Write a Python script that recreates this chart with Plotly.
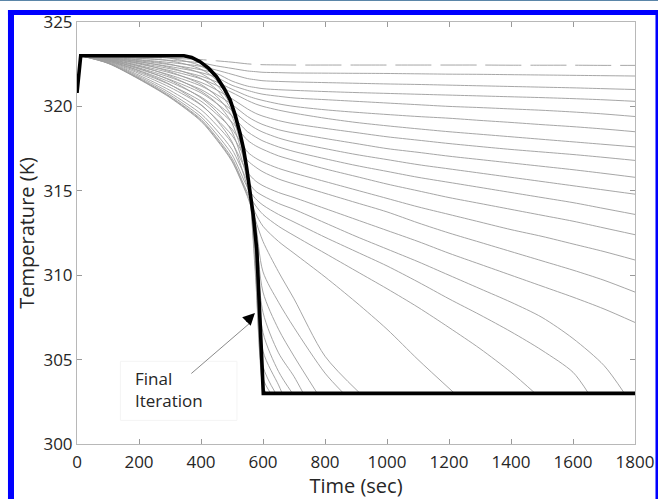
import plotly.graph_objects as go

# ---- data -------------------------------------------------------------
# Final (converged) temperature profile
final_t = [0, 12, 345, 370, 397, 425, 450, 475, 494, 510, 526, 537, 547, 558, 569, 580, 590, 601, 1800]
final_T = [320.8, 323.0, 323.0, 322.9, 322.65, 322.25, 321.76, 321.05, 320.38, 319.5, 318.4, 317.5,
           316.4, 315.0, 313.5, 311.5, 307.5, 303.0, 303.0]

# Intermediate iterations, first part of the run
early_t = [12, 100, 200, 300, 400, 450, 500, 550, 575]
early_T = [
    [323, 322.97, 322.92, 322.85, 322.77, 322.70, 322.62, 322.52, 322.49],
    [323, 322.95, 322.85, 322.73, 322.58, 322.40, 322.25, 322.10, 322.06],
    [323, 322.93, 322.77, 322.60, 322.37, 322.15, 321.90, 321.65, 321.58],
    [323, 322.90, 322.70, 322.47, 322.17, 321.95, 321.50, 321.20, 321.12],
    [323, 322.88, 322.64, 322.36, 322.00, 321.72, 321.25, 320.95, 320.82],
    [323, 322.86, 322.57, 322.23, 321.79, 321.45, 321.02, 320.62, 320.47],
    [323, 322.84, 322.51, 322.12, 321.63, 321.25, 320.82, 320.35, 320.15],
    [323, 322.82, 322.43, 321.99, 321.42, 320.98, 320.45, 319.85, 319.60],
    [323, 322.79, 322.36, 321.86, 321.21, 320.71, 320.11, 319.40, 319.13],
    [323, 322.77, 322.28, 321.72, 321.00, 320.44, 319.77, 319.00, 318.70],
    [323, 322.75, 322.21, 321.59, 320.80, 320.18, 319.44, 318.50, 318.20],
    [323, 322.72, 322.13, 321.44, 320.56, 319.88, 319.06, 318.00, 317.68],
    [323, 322.69, 322.03, 321.28, 320.31, 319.55, 318.65, 317.30, 316.95],
    [323, 322.66, 321.95, 321.13, 320.08, 319.25, 318.28, 316.80, 316.42],
    [323, 322.63, 321.85, 320.95, 319.80, 318.90, 317.83, 316.10, 315.60],
    [323, 322.60, 321.77, 320.80, 319.56, 318.60, 317.45, 315.60, 315.00],
    [323, 322.58, 321.70, 320.68, 319.38, 318.36, 317.15, 315.20, 314.55],
    [323, 322.57, 321.65, 320.59, 319.24, 318.18, 316.93, 314.90, 314.15],
    [323, 322.56, 321.63, 320.55, 319.17, 318.09, 316.81, 314.75, 313.70],
    [323, 322.55, 321.61, 320.52, 319.12, 318.03, 316.74, 314.65, 313.30],
    [323, 322.70, 322.10, 321.30, 320.10, 319.20, 317.90, 315.20, 313.20],
    [323, 322.75, 322.25, 321.55, 320.50, 319.70, 318.50, 315.60, 312.80],
    [323, 322.80, 322.40, 321.80, 320.90, 320.20, 319.00, 315.90, 312.40],
    [323, 322.85, 322.55, 322.05, 321.30, 320.60, 319.40, 316.00, 312.00],
    [323, 322.90, 322.65, 322.30, 321.65, 321.00, 319.70, 316.00, 311.50],
    [323, 322.93, 322.75, 322.50, 321.95, 321.30, 319.90, 316.00, 311.00],
    [323, 322.96, 322.85, 322.70, 322.20, 321.55, 320.00, 316.00, 310.60],
    [323, 322.98, 322.93, 322.85, 322.40, 321.70, 320.05, 316.00, 310.20],
]

# Intermediate iterations, rest of the run (None once the profile sits on the floor)
late_t = [600, 650, 700, 800, 900, 1000, 1100, 1200, 1300, 1400, 1500, 1600, 1700, 1800]
N = None
late_T = [
    [322.47, 322.46, 322.45, 322.45, 322.45, 322.45, 322.45, 322.45, 322.45, 322.44, 322.44, 322.44, 322.43, 322.43],
    [322.02, 322.00, 321.98, 321.97, 321.96, 321.95, 321.93, 321.91, 321.90, 321.88, 321.86, 321.84, 321.82, 321.80],
    [321.52, 321.48, 321.45, 321.41, 321.37, 321.33, 321.30, 321.26, 321.22, 321.18, 321.14, 321.10, 321.05, 321.00],
    [321.05, 320.99, 320.95, 320.88, 320.82, 320.77, 320.72, 320.67, 320.62, 320.57, 320.52, 320.46, 320.39, 320.30],
    [320.72, 320.60, 320.50, 320.40, 320.30, 320.20, 320.10, 320.00, 319.93, 319.85, 319.77, 319.67, 319.55, 319.40],
    [320.35, 320.15, 320.00, 319.80, 319.65, 319.52, 319.40, 319.30, 319.17, 319.05, 318.92, 318.80, 318.66, 318.50],
    [320.00, 319.78, 319.60, 319.30, 319.05, 318.85, 318.67, 318.50, 318.35, 318.20, 318.05, 317.90, 317.75, 317.60],
    [319.42, 319.16, 318.97, 318.70, 318.45, 318.20, 318.00, 317.80, 317.62, 317.45, 317.30, 317.15, 316.98, 316.80],
    [318.92, 318.62, 318.42, 318.10, 317.80, 317.50, 317.28, 317.05, 316.85, 316.65, 316.45, 316.25, 316.03, 315.80],
    [318.47, 318.13, 317.88, 317.50, 317.15, 316.85, 316.55, 316.30, 316.05, 315.80, 315.55, 315.30, 315.05, 314.80],
    [317.95, 317.60, 317.33, 316.90, 316.50, 316.15, 315.80, 315.50, 315.20, 314.90, 314.60, 314.30, 313.95, 313.60],
    [317.45, 317.07, 316.80, 316.30, 315.85, 315.40, 315.00, 314.60, 314.25, 313.90, 313.55, 313.20, 312.80, 312.40],
    [316.70, 316.33, 316.05, 315.55, 315.05, 314.55, 314.05, 313.60, 313.15, 312.70, 312.30, 311.85, 311.40, 310.90],
    [316.12, 315.70, 315.40, 314.85, 314.30, 313.75, 313.10, 312.50, 311.95, 311.40, 310.85, 310.30, 309.70, 309.00],
    [315.30, 314.90, 314.60, 313.95, 313.30, 312.65, 312.00, 311.30, 310.65, 310.00, 309.35, 308.70, 308.00, 307.20],
    [314.70, 314.25, 313.90, 313.10, 312.30, 311.55, 310.80, 310.00, 309.20, 308.40, 307.50, 306.25, 304.65, N],
    [314.15, 313.60, 313.15, 312.25, 311.40, 310.55, 309.60, 308.60, 307.65, 306.65, 305.55, 304.25, N, N],
    [313.60, 312.90, 312.35, 311.30, 310.25, 309.20, 308.10, 306.90, 305.65, 304.25, N, N, N, N],
    [312.90, 312.00, 311.30, 309.90, 308.40, 306.80, 305.00, N, N, N, N, N, N, N],
    [312.00, 310.20, 308.60, 305.20, N, N, N, N, N, N, N, N, N, N],
    [310.20, 308.40, 306.90, 304.20, N, N, N, N, N, N, N, N, N, N],
    [309.00, 306.80, 305.20, N, N, N, N, N, N, N, N, N, N, N],
    [307.80, 305.40, 304.00, N, N, N, N, N, N, N, N, N, N, N],
    [306.60, 304.30, N, N, N, N, N, N, N, N, N, N, N, N],
    [305.50, 303.50, N, N, N, N, N, N, N, N, N, N, N, N],
    [304.60, N, N, N, N, N, N, N, N, N, N, N, N, N],
    [303.90, N, N, N, N, N, N, N, N, N, N, N, N, N],
    [303.40, N, N, N, N, N, N, N, N, N, N, N, N, N],
]

# Time at which each profile reaches the 303 K floor (None: stays above it)
floor_hit_t = [None] * 15 + [1766, 1650, 1478, 1218, 913, 860, 775, 730, 695, 662, 641, 625, 612]
floor_T = 303.0

x_ticks = [0, 200, 400, 600, 800, 1000, 1200, 1400, 1600, 1800]
y_ticks = [300, 305, 310, 315, 320, 325]

# ---- figure -----------------------------------------------------------
fig = go.Figure()

for k in range(len(early_T)):
    xs = list(early_t)
    ys = list(early_T[k])
    for t, v in zip(late_t, late_T[k]):
        if v is not None:
            xs.append(t)
            ys.append(v)
    if floor_hit_t[k] is not None:
        xs.append(floor_hit_t[k])
        ys.append(floor_T)
    fig.add_trace(go.Scatter(
        x=xs, y=ys, mode="lines",
        line=dict(color="#9c9c9c", width=0.9, shape="spline", smoothing=0.8,
                  dash="36px,9px" if k == 0 else "solid"),
        hoverinfo="skip", showlegend=False,
    ))

fig.add_trace(go.Scatter(
    x=final_t, y=final_T, mode="lines",
    line=dict(color="black", width=3.6),
    showlegend=False,
))

font_family = "Open Sans, Liberation Sans, sans-serif"
text_color = "#262626"

axis_common = dict(
    showline=True, linecolor="#b8b8b8", linewidth=1, mirror="ticks",
    ticks="inside", ticklen=5, tickcolor="#9a9a9a", tickwidth=1,
    showgrid=False, zeroline=False, automargin=False,
    tickfont=dict(family=font_family, size=17, color=text_color),
)

fig.update_layout(
    width=658, height=499,
    margin=dict(l=77, r=23, t=22, b=55),
    paper_bgcolor="white", plot_bgcolor="white",
    xaxis=dict(range=[0, 1800], tickvals=x_ticks, ticklabelstandoff=3,
               title=dict(text="Time (sec)", standoff=12,
                          font=dict(family=font_family, size=20, color=text_color)),
               **axis_common),
    yaxis=dict(range=[300, 325], tickvals=y_ticks,
               title=dict(text="Temperature (K)", standoff=3,
                          font=dict(family=font_family, size=20, color=text_color)),
               **axis_common),
    shapes=[
        # surrounding frame
        dict(type="rect", xref="paper", yref="paper", x0=-0.138, x1=1.042, y0=1.0495, y1=1.0525,
             fillcolor="#5b86a8", line=dict(width=0), layer="above"),
        dict(type="rect", xref="paper", yref="paper", x0=-0.1237, x1=-0.1129, y0=-0.131, y1=1.0284,
             fillcolor="#0000ff", line=dict(width=0), layer="above"),
        dict(type="rect", xref="paper", yref="paper", x0=-0.1237, x1=1.042, y0=1.0166, y1=1.0284,
             fillcolor="#0000ff", line=dict(width=0), layer="above"),
        dict(type="rect", xref="paper", yref="paper", x0=1.0367, x1=1.042, y0=-0.131, y1=1.0284,
             fillcolor="#0000ff", line=dict(width=0), layer="above"),
        # faint label box
        dict(type="rect", xref="x", yref="y", x0=140, x1=516, y0=301.4, y1=304.9,
             fillcolor="rgba(0,0,0,0)", line=dict(color="#f4f4f4", width=1), layer="below"),
    ],
    annotations=[
        dict(x=181, y=303.2, xref="x", yref="y", text="Final<br>Iteration", showarrow=False,
             xanchor="left", yanchor="middle", align="left",
             font=dict(family=font_family, size=17, color=text_color)),
        # grey shaft of the pointer
        dict(x=560, y=307.2, ax=364, ay=304.1, xref="x", yref="y", axref="x", ayref="y",
             text="", showarrow=True, arrowhead=0, arrowwidth=1, arrowcolor="#8a8a8a"),
        # black arrow head
        dict(x=574, y=307.76, ax=-10, ay=10, xref="x", yref="y",
             text="", showarrow=True, arrowhead=2, arrowsize=1.6, arrowwidth=1.5, arrowcolor="black"),
    ],
)

fig.write_html("out.html")
